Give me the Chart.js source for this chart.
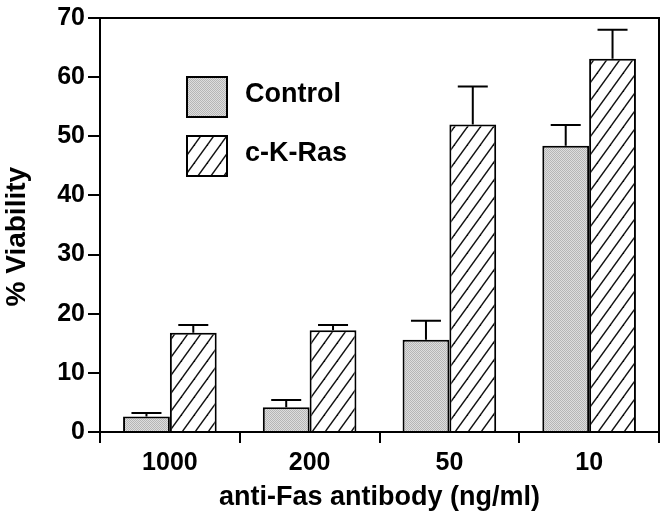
<!DOCTYPE html>
<html>
<head>
<meta charset="utf-8">
<script src="https://cdn.jsdelivr.net/npm/chart.js@4"></script>
<style>
  body { margin: 0; background: #fff; }
  #wrap { width: 662px; height: 514px; }
</style>
</head>
<body>
<div id="wrap"><canvas id="myChart" width="662" height="514"></canvas></div>
<script>
// Datos
const categories = ['1000', '200', '50', '10'];
const controlValues = [2.6, 4.2, 15.6, 48.4];
const controlErrors = [0.6, 1.2, 3.2, 3.5];
const rasValues = [16.8, 17.2, 52.0, 63.1];
const rasErrors = [1.3, 0.9, 6.4, 4.9];
const yTicks = [0, 10, 20, 30, 40, 50, 60, 70];

const fontFamily = '"Liberation Sans", Arial, sans-serif';

// Trama gris punteada
function makeStipple() {
    const c = document.createElement('canvas');
    c.width = 2; c.height = 2;
    const g = c.getContext('2d');
    g.fillStyle = '#dedede';
    g.fillRect(0, 0, 2, 2);
    g.fillStyle = '#b6b6b6';
    g.fillRect(0, 0, 1, 1);
    g.fillRect(1, 1, 1, 1);
    return g.createPattern(c, 'repeat');
}

// Trama rayada diagonal
function makeHatch() {
    const w = 13, h = 18;
    const c = document.createElement('canvas');
    c.width = w; c.height = h;
    const g = c.getContext('2d');
    g.fillStyle = '#fff';
    g.fillRect(0, 0, w, h);
    g.strokeStyle = '#111';
    g.lineWidth = 1.4;
    for (const dx of [-w, 0, w]) {
        g.beginPath();
        g.moveTo(dx - 2, h + 2.8);
        g.lineTo(dx + w + 2, -2.8);
        g.stroke();
    }
    return g.createPattern(c, 'repeat');
}

const stipple = makeStipple();
const hatch = makeHatch();

// Barras de error (solo hacia arriba)
const errorBars = {
    id: 'errorBars',
    afterDatasetsDraw(chart) {
        const ctx = chart.ctx;
        const yScale = chart.scales.y;
        const errs = [controlErrors, rasErrors];
        ctx.save();
        ctx.strokeStyle = '#000';
        ctx.lineWidth = 2;
        chart.data.datasets.forEach((ds, i) => {
            const meta = chart.getDatasetMeta(i);
            meta.data.forEach((bar, j) => {
                const top = yScale.getPixelForValue(ds.data[j] + errs[i][j]);
                ctx.beginPath();
                ctx.moveTo(bar.x, bar.y);
                ctx.lineTo(bar.x, top);
                ctx.moveTo(bar.x - 15, top);
                ctx.lineTo(bar.x + 15, top);
                ctx.stroke();
            });
        });
        ctx.restore();
    }
};

// Marco superior y derecho + leyenda
const frameLegend = {
    id: 'frameLegend',
    afterDraw(chart) {
        const ctx = chart.ctx;
        const a = chart.chartArea;
        ctx.save();
        ctx.strokeStyle = '#000';
        ctx.lineWidth = 2;
        ctx.beginPath();
        ctx.moveTo(a.left, a.top);
        ctx.lineTo(a.right, a.top);
        ctx.lineTo(a.right, a.bottom);
        ctx.stroke();

        const items = [
            { label: 'Control', fill: stipple, y: 77 },
            { label: 'c-K-Ras', fill: hatch, y: 136 }
        ];
        items.forEach(it => {
            ctx.fillStyle = it.fill;
            ctx.fillRect(187, it.y, 40, 40);
            ctx.lineWidth = 2;
            ctx.strokeRect(187, it.y, 40, 40);
            ctx.fillStyle = '#000';
            ctx.font = 'bold 27px ' + fontFamily;
            ctx.textBaseline = 'middle';
            ctx.textAlign = 'left';
            ctx.fillText(it.label, 245, it.y + 18);
        });
        ctx.restore();
    }
};

const ctx = document.getElementById('myChart');

new Chart(ctx, {
    type: 'bar',
    data: {
        labels: categories,
        datasets: [{
            label: 'Control',
            data: controlValues,
            backgroundColor: stipple,
            borderColor: '#000',
            borderWidth: 2,
            categoryPercentage: 0.67,
            barPercentage: 1.0
        }, {
            label: 'c-K-Ras',
            data: rasValues,
            backgroundColor: hatch,
            borderColor: '#000',
            borderWidth: 2,
            categoryPercentage: 0.67,
            barPercentage: 1.0
        }]
    },
    options: {
        responsive: false,
        animation: false,
        layout: { padding: { top: 15, right: 3, left: 0, bottom: 0 } },
        plugins: {
            legend: { display: false },
            tooltip: { enabled: false }
        },
        scales: {
            x: {
                grid: {
                    offset: true,
                    drawOnChartArea: false,
                    tickLength: 11,
                    color: '#000',
                    lineWidth: 2
                },
                border: { color: '#000', width: 2 },
                ticks: {
                    color: '#000',
                    padding: 5,
                    font: { family: fontFamily, size: 25, weight: 'bold' }
                },
                title: {
                    display: true,
                    text: 'anti-Fas antibody (ng/ml)',
                    color: '#000',
                    padding: { top: 5, bottom: 0 },
                    font: { family: fontFamily, size: 27, weight: 'bold' }
                },
                afterFit(scale) { scale.height = 82; }
            },
            y: {
                min: 0,
                max: 70,
                afterBuildTicks(scale) {
                    scale.ticks = yTicks.map(v => ({ value: v }));
                },
                grid: {
                    drawOnChartArea: false,
                    tickLength: 12,
                    color: '#000',
                    lineWidth: 2
                },
                border: { color: '#000', width: 2 },
                ticks: {
                    color: '#000',
                    padding: 3,
                    font: { family: fontFamily, size: 25, weight: 'bold' }
                },
                title: {
                    display: true,
                    text: '% Viability   ',
                    color: '#000',
                    padding: { top: 0, bottom: 6 },
                    font: { family: fontFamily, size: 28, weight: 'bold' }
                },
                afterFit(scale) { scale.width = 100; }
            }
        }
    },
    plugins: [errorBars, frameLegend]
});
</script>
</body>
</html>
